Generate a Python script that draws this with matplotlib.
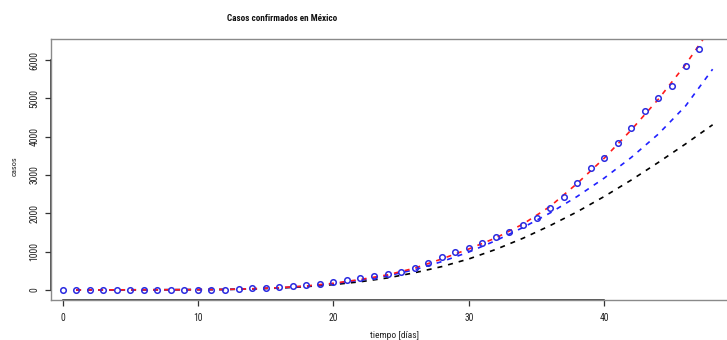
import matplotlib
matplotlib.use("Agg")
import matplotlib.pyplot as plt
from matplotlib import font_manager

# ---- data -------------------------------------------------------------
dias = list(range(48))
casos = [4, 5, 5, 5, 5, 5, 6, 7, 7, 7, 7, 8, 12, 26, 41, 53, 82, 93, 118, 164,
         203, 251, 316, 367, 405, 475, 585, 717, 848, 993, 1094, 1215, 1378,
         1510, 1688, 1890, 2143, 2439, 2785, 3181, 3441, 3844, 4219, 4661,
         5014, 5310, 5847, 6297]

curva_x = [1, 4, 8, 12, 14, 16, 18, 20, 22, 24, 26, 28, 30, 32, 34, 36, 38,
           40, 42, 44, 46, 48]
curva_roja = [2, 4, 7, 14, 32, 60, 105, 175, 275, 395, 570, 810, 1070, 1360,
              1720, 2180, 2780, 3440, 4180, 4980, 5880, 6900]
curva_azul = [2, 4, 7, 14, 30, 55, 100, 165, 255, 370, 530, 740, 990, 1290,
              1630, 2010, 2440, 2920, 3460, 4070, 4800, 5760]
curva_negra = [2, 4, 7, 13, 28, 50, 88, 140, 215, 315, 450, 610, 810, 1060,
               1350, 1680, 2040, 2440, 2870, 3330, 3810, 4310]

xticks = [0, 10, 20, 30, 40]
yticks = [0, 1000, 2000, 3000, 4000, 5000, 6000]
titulo = "Casos confirmados en México"
xlabel = "tiempo [días]"
ylabel = "casos"

# ---- fonts ------------------------------------------------------------
names = {f.name for f in font_manager.fontManager.ttflist}
if "Roboto Condensed" in names:
    fam = "Roboto Condensed"
    fs_tick, fs_xlab, fs_ylab, fs_title = 6.9, 6.8, 6.0, 6.6
else:
    fam = "Liberation Sans"
    fs_tick, fs_xlab, fs_ylab, fs_title = 6.0, 5.8, 5.4, 6.0
plt.rcParams["font.family"] = [fam, "DejaVu Sans"]

# ---- figure -------------------------------------------------------------
W, H = 727, 340
fig = plt.figure(figsize=(W / 100, H / 100), dpi=100)
L, R, B, T = 51, 737, 300, 39
ax = fig.add_axes([L / W, (H - B) / H, (R - L) / W, (B - T) / H])
ax.set_xlim(-0.85, 49.8)
ax.set_ylim(-261, 6548)

dash = dict(linestyle=(0, (3.0, 3.6)), linewidth=1.2)
ax.plot(curva_x, curva_negra, color="black", **dash)
ax.plot(curva_x, curva_azul, color="#2020ff", **dash)
ax.plot(curva_x, curva_roja, color="#ff1a1a", **dash)
ax.plot(dias, casos, linestyle="none", marker="o", markersize=4.0,
        markerfacecolor="none", markeredgecolor="#2a2ae0", markeredgewidth=1.1)

for s in ax.spines.values():
    s.set_color("#8a8a8a")
    s.set_linewidth(1.0)
# darker axis lines spanning the tick range (like R's axis())
ax.plot([xticks[0], xticks[-1]], [0, 0], color="#222222", lw=1.1,
        transform=ax.get_xaxis_transform(), clip_on=False)
ax.plot([0, 0], [yticks[0], yticks[-1]], color="#222222", lw=1.1,
        transform=ax.get_yaxis_transform(), clip_on=False)

ax.set_xticks(xticks)
ax.set_yticks(yticks)
ax.tick_params(axis="both", direction="out", length=4.5, width=0.9,
               color="#333333", labelsize=fs_tick, labelcolor="#222222")
ax.tick_params(axis="x", pad=5)
ax.tick_params(axis="y", pad=4)
for lab in ax.get_yticklabels():
    lab.set_rotation(90)
    lab.set_va("center")

fig.text(282 / W, 1 - 18.5 / H, titulo, ha="center", va="center",
         fontsize=fs_title, fontweight="bold", color="#111111")
fig.text(394 / W, 1 - 336 / H, xlabel, ha="center", va="center",
         fontsize=fs_xlab, color="#222222")
fig.text(15 / W, 1 - 166 / H, ylabel, ha="center", va="center",
         rotation=90, fontsize=fs_ylab, color="#222222")

fig.savefig("out.png", dpi=100)
